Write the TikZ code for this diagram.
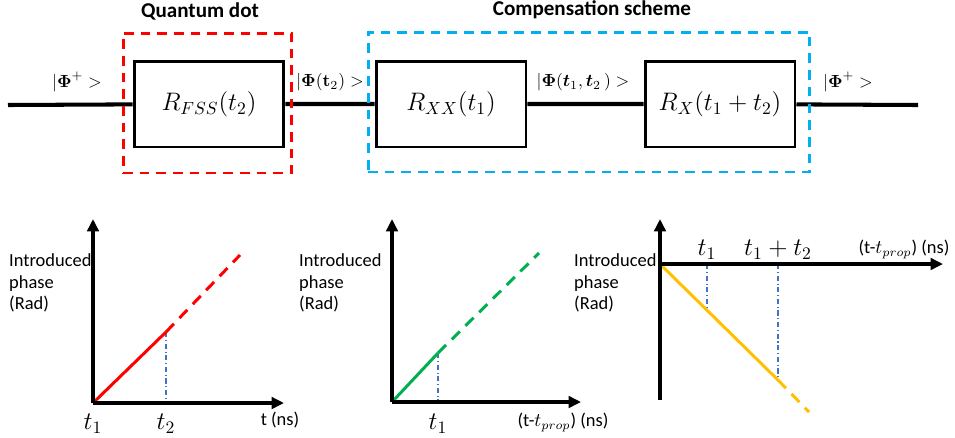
\documentclass[tikz,border=0pt]{standalone}
\usepackage{amsmath}
\usepackage[no-math]{fontspec}
\setmainfont{Carlito}
\usetikzlibrary{arrows.meta}

\definecolor{qdred}{HTML}{FF0000}
\definecolor{compblue}{HTML}{00B0F0}
\definecolor{phgreen}{HTML}{00B050}
\definecolor{phorange}{HTML}{FFC000}
\definecolor{guideblue}{HTML}{4472C4}

\begin{document}
\begin{tikzpicture}[x=0.02cm, y=-0.02cm,
    block/.style={draw, fill=white, line width=1.7pt, minimum width=3cm, minimum height=1.72cm, font=\fontsize{14}{16}\selectfont},
    region/.style={draw, line width=1.7pt, dash pattern=on 5.5pt off 4pt, minimum height=2.8cm},
    wire/.style={line width=2.3pt},
    state/.style={font=\fontsize{10}{12}\selectfont},
    title/.style={font=\fontsize{12}{14}\selectfont\bfseries},
    axis/.style={line width=2pt, -{Triangle[length=7pt,width=6.5pt]}},
    solidph/.style={line width=1.7pt},
    dashph/.style={line width=1.7pt, dash pattern=on 6.5pt off 4.5pt},
    guide/.style={guideblue, line width=0.6pt, dash pattern=on 3pt off 1.5pt on 0.6pt off 1.5pt},
    ylab/.style={anchor=west, align=left, font=\fontsize{10.5}{12.2}\selectfont},
    tick/.style={font=\fontsize{14}{16}\selectfont},
    xlab/.style={font=\fontsize{10.5}{12}\selectfont}]

  \useasboundingbox (0,0) rectangle (955,437);

  % signal chain
  \coordinate (in) at (8,105);
  \coordinate (out) at (918,105);
  \node[block] (1) at (209,104) {$R_{FSS}(t_2)$};
  \node[block] (2) at (451,104) {$R_{XX}(t_1)$};
  \node[block] (3) at (720,104) {$R_{X}(t_1+t_2)$};
  \draw[wire] (in) -- (1) -- (2) -- (3) -- (out);

  \node[region, qdred, minimum width=3.38cm] (qd) at (207.5,103) {};
  \node[region, compblue, minimum width=8.84cm] (comp) at (589,102) {};
  \node[title] (qdt) at (200,11) {Quantum dot};
  \node[title] (compt) at (592,10) {Compensation scheme};

  \node[state] (s1) at (77,82) {$|\boldsymbol{\Phi}^{+}>$};
  \node[state] (s2) at (330,82) {$|\boldsymbol{\Phi}(\mathbf{t}_2)>$};
  \node[state] (s3) at (583,82) {$|\boldsymbol{\Phi}(\boldsymbol{t}_1,\boldsymbol{t}_2\,)>$};
  \node[state] (s4) at (848,82) {$|\boldsymbol{\Phi}^{+}>$};

  % plot 1
  \coordinate (o1) at (93,403);
  \coordinate (y1) at (93,219);
  \coordinate (x1) at (284,403);
  \coordinate (p1) at (166,332);
  \coordinate (q1) at (240,255);
  \coordinate (f1) at (166,403);
  \draw[guide] (p1) -- (f1);
  \draw[qdred, solidph] (o1) -- (p1);
  \draw[qdred, dashph] (p1) -- (q1);
  \draw[axis] (o1) -- (y1);
  \draw[axis] (o1) -- (x1);
  \node[ylab] (l1) at (3,283) {Introduced\\phase\\(Rad)};
  \node[tick] (a1) at (93,424) {$t_1$};
  \node[tick] (b1) at (166,424) {$t_2$};
  \node[xlab] (c1) at (280,420) {t (ns)};

  % plot 2
  \coordinate (o2) at (392,402);
  \coordinate (y2) at (392,219);
  \coordinate (x2) at (581,402);
  \coordinate (p2) at (438,353);
  \coordinate (q2) at (539,253);
  \coordinate (f2) at (438,402);
  \draw[guide] (p2) -- (f2);
  \draw[phgreen, solidph] (o2) -- (p2);
  \draw[phgreen, dashph] (p2) -- (q2);
  \draw[axis] (o2) -- (y2);
  \draw[axis] (o2) -- (x2);
  \node[ylab] (l2) at (293,283) {Introduced\\phase\\(Rad)};
  \node[tick] (a2) at (438,424) {$t_1$};
  \node[xlab] (c2) at (563,422) {(t-$t_{prop}$) (ns)};

  % plot 3
  \coordinate (o3) at (660,264);
  \coordinate (y3) at (660,219);
  \coordinate (e3) at (660,400);
  \coordinate (x3) at (943,264);
  \coordinate (p3) at (778,380);
  \coordinate (q3) at (809,412);
  \coordinate (m3) at (707,310);
  \coordinate (k3) at (707,264);
  \coordinate (n3) at (778,264);
  \draw[guide] (k3) -- (m3);
  \draw[guide] (n3) -- (p3);
  \draw[phorange, solidph] (o3) -- (p3);
  \draw[phorange, dashph] (p3) -- (q3);
  \draw[line width=2pt] (o3) -- (e3);
  \draw[axis] (o3) -- (y3);
  \draw[axis] (o3) -- (x3);
  \node[ylab] (l3) at (568,283) {Introduced\\phase\\(Rad)};
  \node[tick] (a3) at (707,250) {$t_1$};
  \node[tick] (b3) at (778,250) {$t_1+t_2$};
  \node[xlab] (c3) at (904,249) {(t-$t_{prop}$) (ns)};
\end{tikzpicture}
\end{document}
